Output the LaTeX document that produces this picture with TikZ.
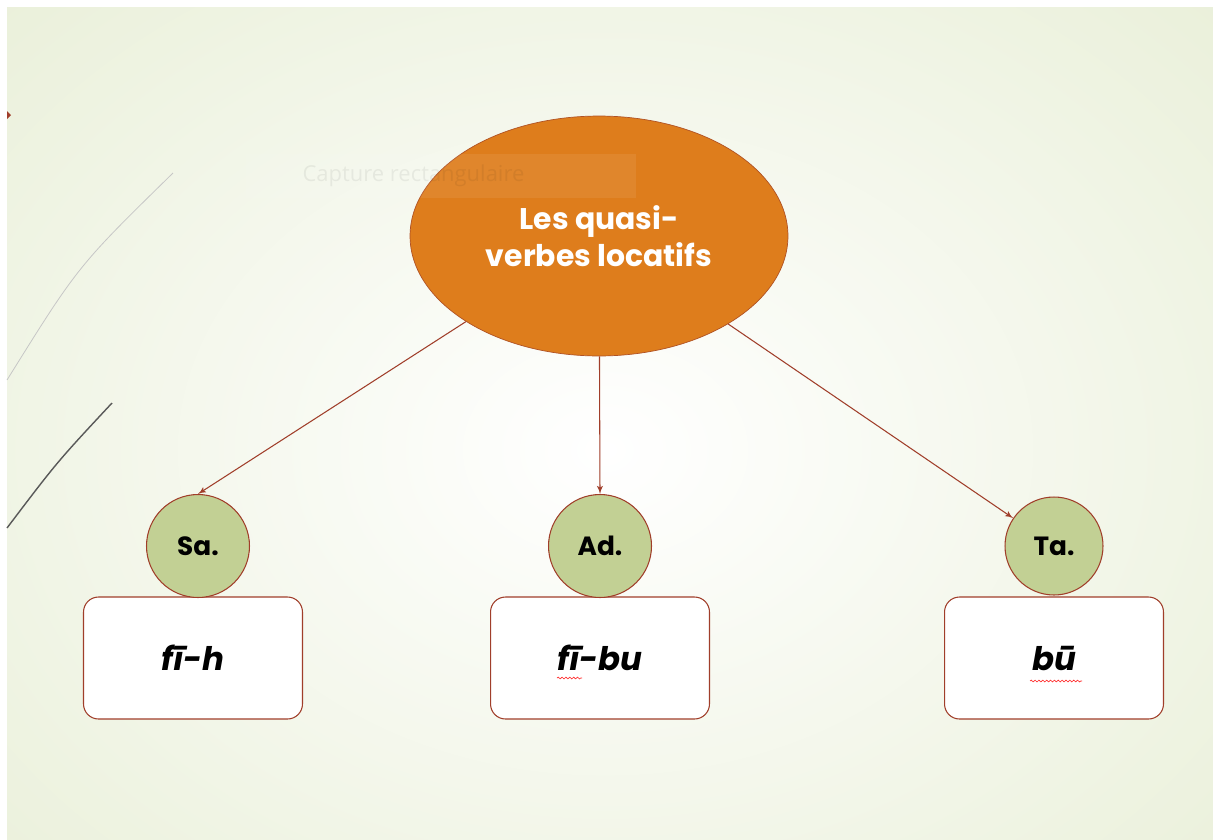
\documentclass[tikz,border=0pt]{standalone}
\usepackage{fontspec}
\setmainfont{Poppins}
\newfontfamily\tipfont{Open Sans}
\usetikzlibrary{shapes,arrows}
\usetikzlibrary{arrows,positioning,decorations.pathmorphing}
\definecolor{lorange}{RGB}{222, 125, 28}
\definecolor{dorange}{RGB}{176, 82, 36}
\definecolor{lolive}{RGB}{194, 208, 148}
\definecolor{dbrown}{RGB}{160, 62, 42}
\definecolor{lgreen}{RGB}{234, 240, 218}
\tikzstyle{topic} = [ellipse, draw=dorange, fill=lorange, text=white,
  minimum width=7.56cm, minimum height=4.8cm, align=center,
  font=\fontsize{17}{21}\selectfont\bfseries]
\tikzstyle{region} = [circle, draw=dbrown, line width=0.6pt, fill=lolive,
  minimum size=2.06cm, inner sep=0pt, font=\fontsize{15}{17}\selectfont\bfseries]
\tikzstyle{word} = [rectangle, draw=dbrown, line width=0.6pt, fill=white,
  rounded corners=0.3cm, minimum width=4.38cm, minimum height=2.44cm,
  font=\fontsize{18.5}{22}\selectfont\bfseries\itshape]
\tikzstyle{line} = [draw, line width=0.6pt, color=dbrown, -latex']
\tikzstyle{squiggle} = [draw=red!85, line width=0.35pt, decorate,
  decoration={snake, amplitude=0.5pt, segment length=2.2pt}]

\begin{document}
\begin{tikzpicture}[x=0.02cm, y=-0.02cm]

  \useasboundingbox (0,0) rectangle (1213,839);

  %%%%%%%%%%%%%%%%%%%%%%%%%%%%%%%%%%%%%%%%%%%%%%%%%%%%%%%%%%%%%%
  %                    SLIDE BACKGROUND                        %
  %%%%%%%%%%%%%%%%%%%%%%%%%%%%%%%%%%%%%%%%%%%%%%%%%%%%%%%%%%%%%%

  \fill[white] (0,0) rectangle (1213,839);
  \begin{scope}
    \clip (7,7) rectangle (1213,839);
    \shade[inner color=white, outer color=lgreen] (-250,-200) rectangle (1460,1100);
  \end{scope}
  \draw[gray!45, line width=0.45pt] (7,380) .. controls (78,266) .. (173,173);
  \draw[gray!70!black, line width=0.8pt] (7,528) .. controls (57,462) .. (112,403);
  \fill[dbrown] (7,111) -- (11,115) -- (7,119) -- cycle;

  %%%%%%%%%%%%%%%%%%%%%%%%%%%%%%%%%%%%%%%%%%%%%%%%%%%%%%%%%%%%%%
  %                    TOPIC                                   %
  %%%%%%%%%%%%%%%%%%%%%%%%%%%%%%%%%%%%%%%%%%%%%%%%%%%%%%%%%%%%%%

  \node [topic] (quasi-verbes) at (599,236) {Les quasi-\\verbes locatifs};

  \node [fill=white, opacity=0.07, text opacity=0.06, minimum width=7.8cm,
    minimum height=0.88cm, font=\tipfont\fontsize{12.5}{14}\selectfont]
    (capture-tip) at (441,176) {\hspace*{-1.1cm}Capture rectangulaire};

  %%%%%%%%%%%%%%%%%%%%%%%%%%%%%%%%%%%%%%%%%%%%%%%%%%%%%%%%%%%%%%
  %                    WORDS                                   %
  %%%%%%%%%%%%%%%%%%%%%%%%%%%%%%%%%%%%%%%%%%%%%%%%%%%%%%%%%%%%%%

  \node [word] (sa-word) at (193,658) {fī-h};
  \node [word] (ad-word) at (600,658) {fī-bu};
  \node [word] (ta-word) at (1054,658) {bū};

  \draw[squiggle] (557,678) -- (582,678);
  \draw[squiggle] (1030,681) -- (1082,681);

  %%%%%%%%%%%%%%%%%%%%%%%%%%%%%%%%%%%%%%%%%%%%%%%%%%%%%%%%%%%%%%
  %                    DIALECTS                                %
  %%%%%%%%%%%%%%%%%%%%%%%%%%%%%%%%%%%%%%%%%%%%%%%%%%%%%%%%%%%%%%

  \node [region] (sa) at (198,546) {Sa.};
  \node [region] (ad) at (600,546) {Ad.};
  \node [region, minimum size=1.96cm] (ta) at (1054,546) {Ta.};

  \draw[line] (quasi-verbes) -- (sa.north);
  \draw[line] (quasi-verbes) -- (ad.north);
  \draw[line] (quasi-verbes) -- (ta);

\end{tikzpicture}
\end{document}
